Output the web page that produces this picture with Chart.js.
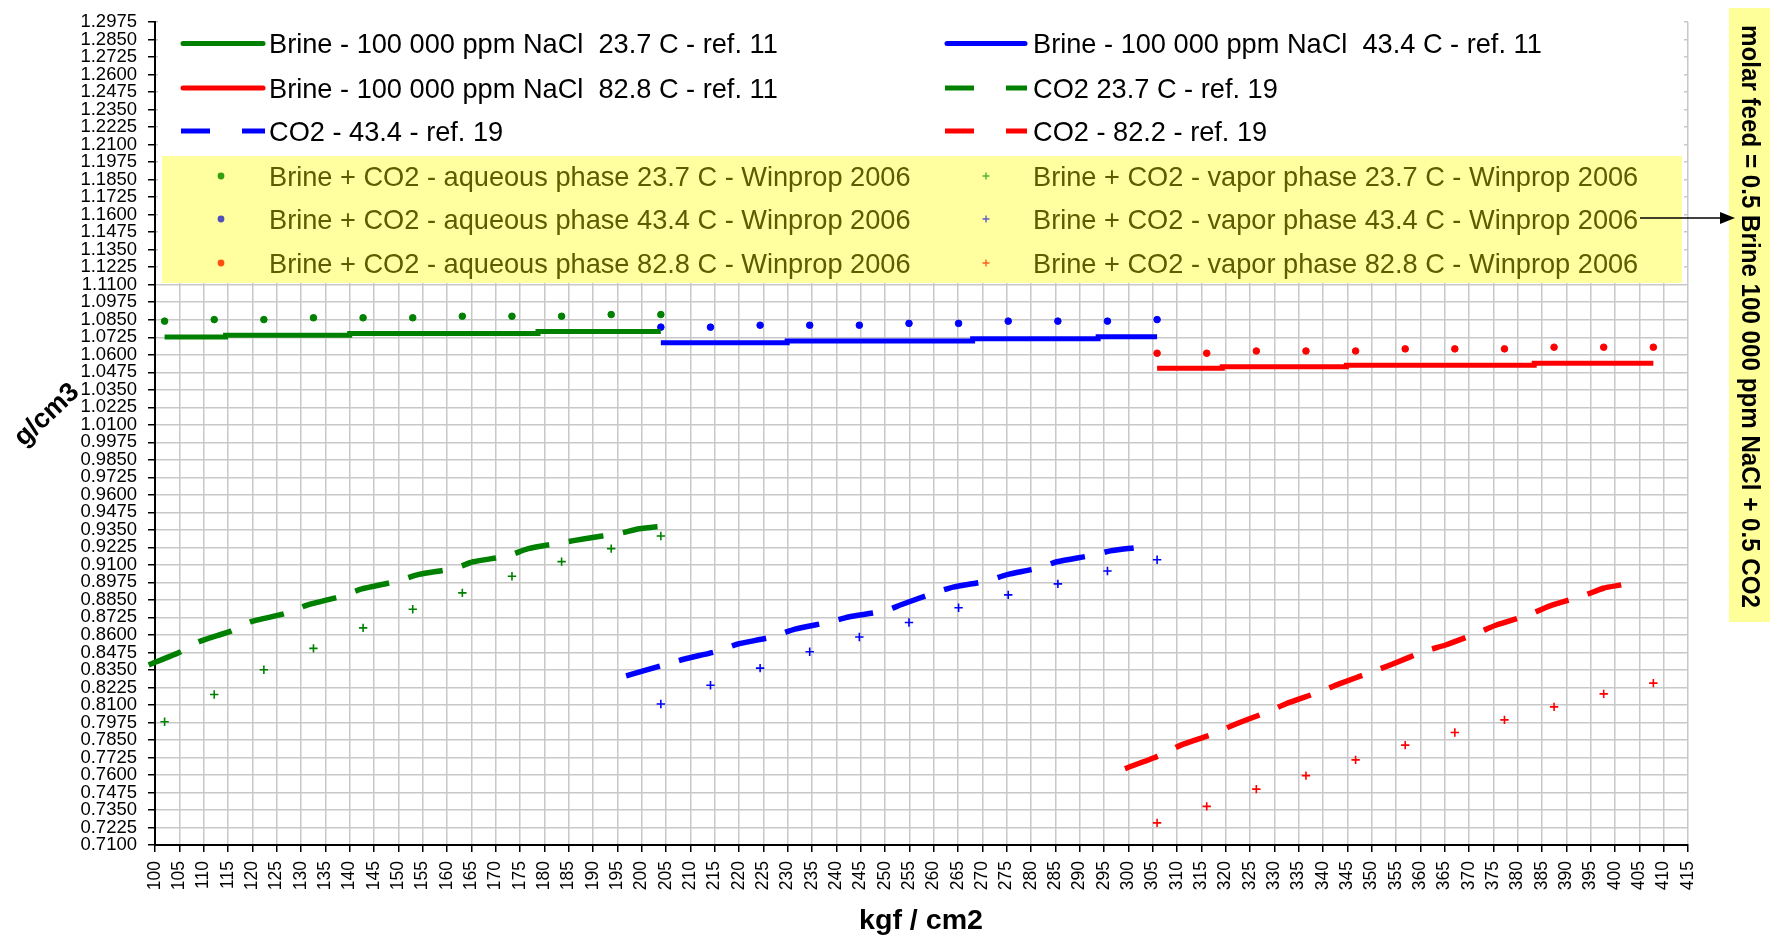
<!DOCTYPE html>
<html>
<head>
<meta charset="utf-8">
<title>Brine + CO2 - densidade</title>
<script src="https://cdn.jsdelivr.net/npm/chart.js@4.4.1/dist/chart.umd.min.js"></script>
<style>
    html, body { margin: 0; padding: 0; background: #fff; }
    #area { width: 1782px; height: 942px; }
</style>
</head>
<body>
<div id="area"><canvas id="grafico" width="1782" height="942"></canvas></div>
<script>
const FONTE = '"Liberation Sans", Arial, sans-serif';

// eixo x (kgf/cm2) e eixo y (g/cm3)
const X_MIN = 100, X_MAX = 415, X_PASSO = 5;
const Y_MIN = 0.71, Y_MAX = 1.2975, Y_PASSO = 0.0125;

// salmoura 100 000 ppm NaCl - ref. 11 (degraus)
const brineP237 = [101.97, 114.5, 140.0, 178.7, 203.94];
const brineD237 = [1.0726, 1.0740, 1.0752, 1.0766, 1.0766];
const brineP434 = [203.94, 229.9, 268.0, 293.8, 305.91];
const brineD434 = [1.0686, 1.0698, 1.0715, 1.0729, 1.0729];
const brineP828 = [305.91, 319.3, 344.8, 383.4, 407.88];
const brineD828 = [1.0503, 1.0514, 1.0526, 1.0540, 1.0540];

// CO2 puro - ref. 19
const co2P237 = [98.7, 105.3, 109.0, 115.6, 119.6, 126.6, 131.4, 138.4, 142.5, 149.7,
                 154.2, 161.5, 165.4, 172.6, 176.7, 183.7, 188.3, 195.5, 199.5, 204.3];
const co2D237 = [0.8386, 0.8480, 0.8551, 0.8627, 0.8693, 0.8751, 0.8815, 0.8877, 0.8928, 0.8983,
                 0.9032, 0.9075, 0.9122, 0.9165, 0.9216, 0.9259, 0.9287, 0.9325, 0.9358, 0.9377];
const co2P434 = [196.8, 204.2, 208.6, 215.7, 219.6, 226.7, 231.5, 238.7, 242.5, 249.8,
                 253.3, 260.1, 264.0, 270.7, 275.1, 281.5, 285.3, 292.7, 296.3, 301.1];
const co2D434 = [0.8308, 0.8381, 0.8426, 0.8485, 0.8533, 0.8585, 0.8641, 0.8693, 0.8728, 0.8770,
                 0.8815, 0.8900, 0.8941, 0.8983, 0.9030, 0.9077, 0.9122, 0.9169, 0.9200, 0.9221];
const co2P822 = [299.3, 306.3, 310.8, 317.7, 321.6, 328.5, 332.3, 339.2, 343.2, 350.3,
                 354.2, 360.9, 365.2, 371.5, 375.5, 382.6, 386.5, 393.6, 397.6, 401.3];
const co2D822 = [0.7645, 0.7737, 0.7813, 0.7895, 0.7957, 0.8049, 0.8107, 0.8192, 0.8249, 0.8339,
                 0.8390, 0.8485, 0.8528, 0.8610, 0.8669, 0.8747, 0.8806, 0.8881, 0.8933, 0.8957];

// Winprop 2006 - pressões dos pontos calculados
const wpP237 = [101.97, 112.17, 122.37, 132.56, 142.76, 152.96, 163.15, 173.35, 183.55, 193.74, 203.94];
const wpP434 = [203.94, 214.14, 224.34, 234.53, 244.73, 254.93, 265.12, 275.32, 285.52, 295.71, 305.91];
const wpP828 = [305.91, 316.11, 326.30, 336.50, 346.70, 356.89, 367.09, 377.29, 387.48, 397.68, 407.88];

// fase aquosa
const aqD237 = [1.0840, 1.0851, 1.0851, 1.0864, 1.0864, 1.0864, 1.0875, 1.0875, 1.0875, 1.0887, 1.0887];
const aqD434 = [1.0797, 1.0797, 1.0811, 1.0811, 1.0811, 1.0824, 1.0824, 1.0840, 1.0840, 1.0840, 1.0851];
const aqD828 = [1.0611, 1.0611, 1.0627, 1.0627, 1.0627, 1.0642, 1.0642, 1.0642, 1.0654, 1.0654, 1.0654];

// fase vapor
const vpD237 = [0.7980, 0.8174, 0.8351, 0.8504, 0.8650, 0.8783, 0.8900, 0.9019, 0.9123, 0.9216, 0.9306];
const vpD434 = [0.8107, 0.8240, 0.8363, 0.8480, 0.8585, 0.8688, 0.8794, 0.8886, 0.8964, 0.9056, 0.9136];
const vpD828 = [0.7258, 0.7376, 0.7499, 0.7595, 0.7708, 0.7813, 0.7903, 0.7993, 0.8086, 0.8179, 0.8256];

const NOTA = 'molar feed = 0.5 Brine 100 000 ppm NaCl + 0.5 CO2';

const VERDE = '#008000', AZUL = '#0000ff', VERMELHO = '#ff0000';

const pares = (xs, ys) => xs.map((x, i) => ({ x: x, y: ys[i] }));

function linhaBrine(rotulo, xs, ys, cor) {
    return {
        label: rotulo, data: pares(xs, ys), showLine: true, stepped: true,
        borderColor: cor, borderWidth: 5, pointRadius: 0,
        legenda: { tipo: 'linha', cor: cor }
    };
}

function linhaCO2(rotulo, xs, ys, cor) {
    return {
        label: rotulo, data: pares(xs, ys), showLine: true, tension: 0.2,
        borderColor: cor, borderWidth: 5.5, borderDash: [35, 20], pointRadius: 0, clip: 10,
        legenda: { tipo: 'tracejado', cor: cor }
    };
}

function pontos(rotulo, xs, ys, cor, estilo, corLegenda) {
    const cruz = estilo === 'cross';
    return {
        label: rotulo, data: pares(xs, ys), showLine: false,
        pointStyle: estilo, pointRadius: cruz ? 4.2 : 3.3,
        borderColor: cor, backgroundColor: cor, borderWidth: cruz ? 1.6 : 1,
        legenda: { tipo: cruz ? 'cruz' : 'ponto', cor: corLegenda }
    };
}

// ordem igual à da legenda (duas colunas, linha a linha)
const datasets = [
    linhaBrine('Brine - 100 000 ppm NaCl  23.7 C - ref. 11', brineP237, brineD237, VERDE),
    linhaBrine('Brine - 100 000 ppm NaCl  43.4 C - ref. 11', brineP434, brineD434, AZUL),
    linhaBrine('Brine - 100 000 ppm NaCl  82.8 C - ref. 11', brineP828, brineD828, VERMELHO),
    linhaCO2('CO2 23.7 C - ref. 19', co2P237, co2D237, VERDE),
    linhaCO2('CO2 - 43.4 - ref. 19', co2P434, co2D434, AZUL),
    linhaCO2('CO2 - 82.2 - ref. 19', co2P822, co2D822, VERMELHO),
    pontos('Brine + CO2 - aqueous phase 23.7 C - Winprop 2006', wpP237, aqD237, VERDE, 'circle', '#33a010'),
    pontos('Brine + CO2 - vapor phase 23.7 C - Winprop 2006', wpP237, vpD237, VERDE, 'cross', '#55b030'),
    pontos('Brine + CO2 - aqueous phase 43.4 C - Winprop 2006', wpP434, aqD434, AZUL, 'circle', '#5050b8'),
    pontos('Brine + CO2 - vapor phase 43.4 C - Winprop 2006', wpP434, vpD434, AZUL, 'cross', '#6060c0'),
    pontos('Brine + CO2 - aqueous phase 82.8 C - Winprop 2006', wpP828, aqD828, VERMELHO, 'circle', '#ff5010'),
    pontos('Brine + CO2 - vapor phase 82.8 C - Winprop 2006', wpP828, vpD828, VERMELHO, 'cross', '#ff6020')
];

// legenda dentro da área do gráfico, com faixa amarela para os pontos do Winprop
const legendaPlugin = {
    id: 'legendaInterna',
    beforeDatasetsDraw(chart) {
        const ctx = chart.ctx;
        const colunas = [
            { l0: 181, l1: 265, marca: 221, texto: 269 },
            { l0: 945, l1: 1027, marca: 986, texto: 1033 }
        ];
        const linhasY = [43.5, 88, 131, 176, 219, 263];
        const tam = 27.2;
        ctx.save();
        ctx.fillStyle = '#ffffff';
        ctx.fillRect(158, 20, 1526, 263);
        ctx.fillStyle = '#ffffa0';
        ctx.fillRect(162, 156, 1520, 127);
        ctx.font = tam + 'px ' + FONTE;
        ctx.textAlign = 'left';
        ctx.textBaseline = 'alphabetic';
        chart.data.datasets.forEach((ds, i) => {
            const lin = Math.floor(i / 2);
            const c = colunas[i % 2];
            const y = linhasY[lin];
            const leg = ds.legenda;
            ctx.strokeStyle = leg.cor;
            ctx.fillStyle = leg.cor;
            if (leg.tipo === 'linha') {
                ctx.setLineDash([]);
                ctx.lineWidth = 5;
                ctx.lineCap = 'round';
                ctx.beginPath();
                ctx.moveTo(c.l0 + 2, y);
                ctx.lineTo(c.l1 - 2, y);
                ctx.stroke();
            } else if (leg.tipo === 'tracejado') {
                ctx.lineWidth = 5;
                ctx.lineCap = 'butt';
                ctx.setLineDash([29, 32]);
                ctx.beginPath();
                ctx.moveTo(c.l0, y);
                ctx.lineTo(c.l1, y);
                ctx.stroke();
                ctx.setLineDash([]);
            } else if (leg.tipo === 'ponto') {
                ctx.beginPath();
                ctx.arc(c.marca, y, 3.4, 0, Math.PI * 2);
                ctx.fill();
            } else {
                ctx.lineWidth = 1.4;
                ctx.lineCap = 'butt';
                ctx.beginPath();
                ctx.moveTo(c.marca - 3.5, y);
                ctx.lineTo(c.marca + 3.5, y);
                ctx.moveTo(c.marca, y - 3.5);
                ctx.lineTo(c.marca, y + 3.5);
                ctx.stroke();
            }
            ctx.fillStyle = lin < 3 ? '#000000' : '#5c5c00';
            ctx.fillText(ds.label, c.texto, y + tam * 0.36);
        });
        ctx.restore();
    }
};

// títulos dos eixos, nota lateral e seta
const anotacoesPlugin = {
    id: 'anotacoes',
    afterDraw(chart) {
        const ctx = chart.ctx;
        ctx.save();
        ctx.fillStyle = '#000';

        ctx.save();
        ctx.font = 'bold 27px ' + FONTE;
        const largX = ctx.measureText('kgf / cm2').width;
        ctx.translate(921, 929);
        ctx.scale(124 / largX, 1);
        ctx.textAlign = 'center';
        ctx.textBaseline = 'alphabetic';
        ctx.fillText('kgf / cm2', 0, 0);
        ctx.restore();

        ctx.save();
        ctx.translate(47, 415);
        ctx.rotate(-43.5 * Math.PI / 180);
        ctx.font = 'bold 27px ' + FONTE;
        ctx.textAlign = 'center';
        ctx.textBaseline = 'middle';
        ctx.fillText('g/cm3', 0, 0);
        ctx.restore();

        // caixa da nota
        ctx.fillStyle = '#ffff99';
        ctx.fillRect(1729, 8, 41, 614);

        // seta saindo da legenda
        ctx.strokeStyle = '#000';
        ctx.lineWidth = 1.5;
        ctx.beginPath();
        ctx.moveTo(1640, 218);
        ctx.lineTo(1722, 218);
        ctx.stroke();
        ctx.fillStyle = '#000';
        ctx.beginPath();
        ctx.moveTo(1735, 218);
        ctx.lineTo(1720, 212);
        ctx.lineTo(1720, 224);
        ctx.closePath();
        ctx.fill();

        ctx.save();
        ctx.font = 'bold 25px ' + FONTE;
        const largura = ctx.measureText(NOTA).width;
        ctx.translate(1742, 25);
        ctx.rotate(Math.PI / 2);
        ctx.scale(583 / largura, 1);
        ctx.textAlign = 'left';
        ctx.textBaseline = 'alphabetic';
        ctx.fillText(NOTA, 0, 0);
        ctx.restore();

        ctx.restore();
    }
};

const ctx = document.getElementById('grafico').getContext('2d');
const grafico = new Chart(ctx, {
    type: 'scatter',
    data: { datasets: datasets },
    options: {
        responsive: false,
        animation: false,
        devicePixelRatio: 1,
        layout: { padding: { left: 0, right: 94, top: 15, bottom: 0 } },
        plugins: {
            legend: { display: false },
            tooltip: { enabled: false }
        },
        scales: {
            x: {
                type: 'linear',
                min: X_MIN,
                max: X_MAX,
                afterFit: (escala) => { escala.height = 97; },
                grid: { color: '#c8c8c8', lineWidth: 1.5, tickColor: '#000', tickLength: 7 },
                border: { color: '#000', width: 2 },
                ticks: {
                    stepSize: X_PASSO,
                    autoSkip: false,
                    minRotation: 90,
                    maxRotation: 90,
                    padding: 9,
                    color: '#000',
                    font: { family: FONTE, size: 17.5 },
                    callback: (v) => String(Math.round(v))
                }
            },
            y: {
                type: 'linear',
                min: Y_MIN,
                max: Y_MAX,
                afterFit: (escala) => { escala.width = 155; },
                grid: { color: '#c8c8c8', lineWidth: 1.5, tickColor: '#000', tickLength: 7 },
                border: { color: '#000', width: 2 },
                ticks: {
                    stepSize: Y_PASSO,
                    autoSkip: false,
                    padding: 11,
                    color: '#000',
                    font: { family: FONTE, size: 18.5 },
                    callback: (v) => v.toFixed(4)
                }
            }
        }
    },
    plugins: [legendaPlugin, anotacoesPlugin]
});
</script>
</body>
</html>
